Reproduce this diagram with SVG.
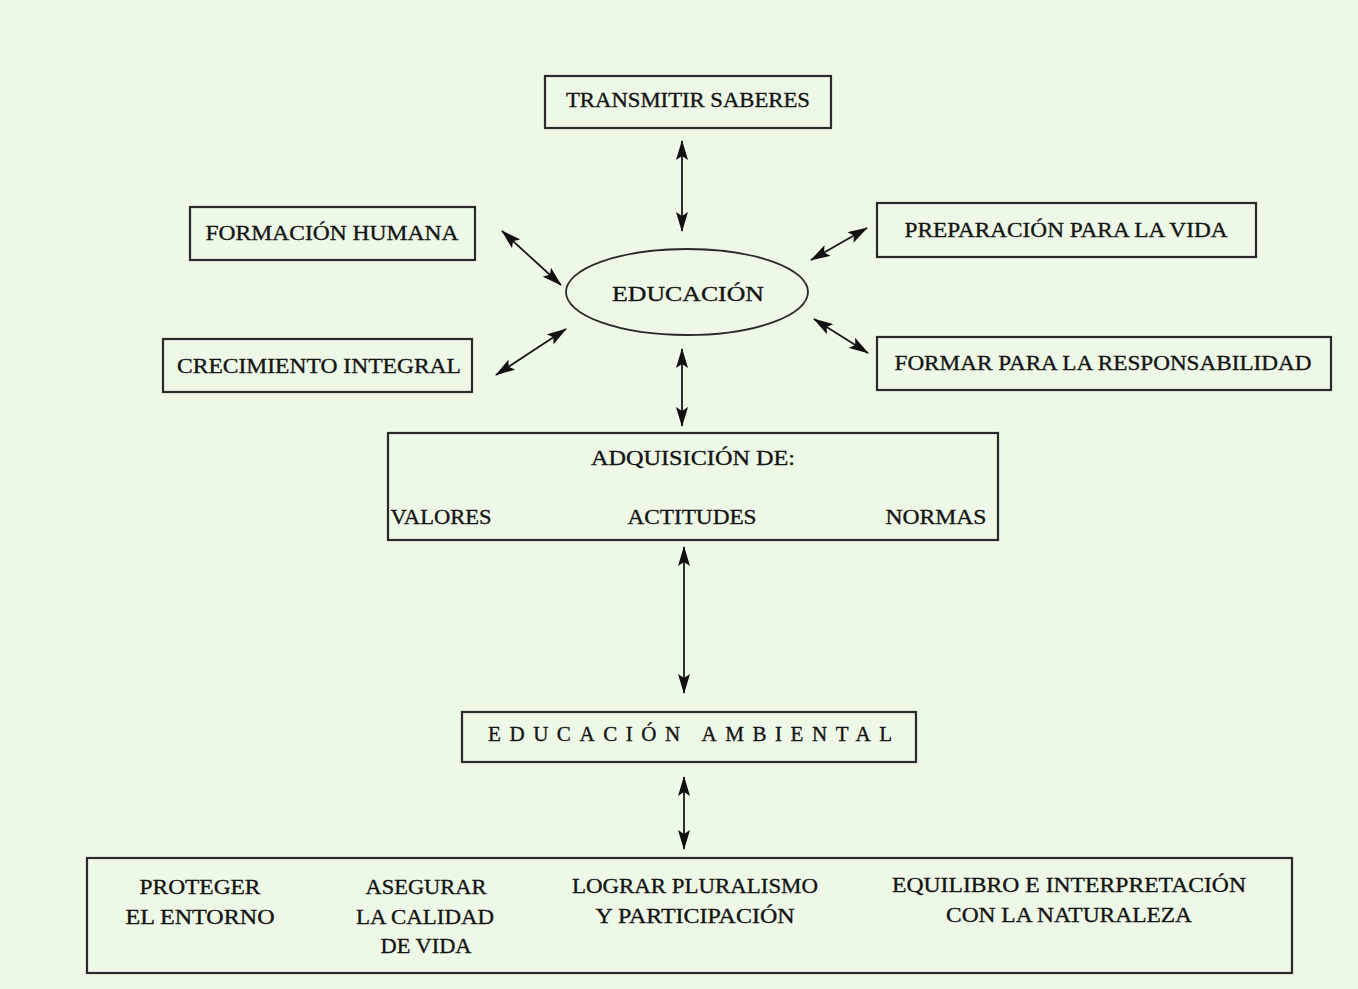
<svg xmlns="http://www.w3.org/2000/svg" width="1358" height="989" viewBox="0 0 1358 989">
<style>
.bx{fill:none;stroke:#2a2a2a;stroke-width:2.2}
.t{font-family:"Liberation Serif","Times New Roman",serif;font-size:22px;fill:#141414;stroke:#141414;stroke-width:0.35;text-anchor:middle}
.c{stroke:#1a1a1a;stroke-width:1.8;fill:none;marker-start:url(#ah);marker-end:url(#ah)}
</style>
<defs>
<marker id="ah" viewBox="0 0 20 12" refX="19" refY="6" markerWidth="20" markerHeight="12" markerUnits="userSpaceOnUse" orient="auto-start-reverse">
<path d="M0,0 L20,6 L0,12 L4,6 Z" fill="#111"/>
</marker>
</defs>
<rect width="1358" height="989" fill="#eef8e6"/>
<g id="connectors">
<line class="c" x1="682" y1="141" x2="682" y2="231"/>
<line class="c" x1="502" y1="231" x2="561" y2="285"/>
<line class="c" x1="496" y1="375" x2="566" y2="329"/>
<line class="c" x1="811" y1="260" x2="867" y2="228"/>
<line class="c" x1="814" y1="319" x2="868" y2="353"/>
<line class="c" x1="682" y1="349" x2="682" y2="426"/>
<line class="c" x1="684" y1="547" x2="684" y2="693"/>
<line class="c" x1="684" y1="777" x2="684" y2="849"/>
</g>
<g id="transmitir">
<rect class="bx" x="545" y="76" width="286" height="52"/>
<text class="t" x="688" y="107" textLength="244" lengthAdjust="spacingAndGlyphs">TRANSMITIR SABERES</text>
</g>
<g id="formacion">
<rect class="bx" x="190" y="207" width="285" height="53"/>
<text class="t" x="332" y="240" textLength="253" lengthAdjust="spacingAndGlyphs">FORMACIÓN HUMANA</text>
</g>
<g id="crecimiento">
<rect class="bx" x="163" y="339" width="309" height="53"/>
<text class="t" x="319" y="373" textLength="284" lengthAdjust="spacingAndGlyphs">CRECIMIENTO INTEGRAL</text>
</g>
<g id="preparacion">
<rect class="bx" x="877" y="203" width="379" height="54"/>
<text class="t" x="1066" y="237" textLength="323" lengthAdjust="spacingAndGlyphs">PREPARACIÓN PARA LA VIDA</text>
</g>
<g id="formar">
<rect class="bx" x="877" y="337" width="454" height="53"/>
<text class="t" x="1103" y="370" textLength="417" lengthAdjust="spacingAndGlyphs">FORMAR PARA LA RESPONSABILIDAD</text>
</g>
<g id="educacion">
<ellipse cx="687" cy="292" rx="121" ry="43" fill="none" stroke="#2a2a2a" stroke-width="1.8"/>
<text class="t" x="688" y="301" textLength="152" lengthAdjust="spacingAndGlyphs">EDUCACIÓN</text>
</g>
<g id="adquisicion">
<rect class="bx" x="388" y="433" width="610" height="107"/>
<text class="t" x="693" y="465" textLength="204" lengthAdjust="spacingAndGlyphs">ADQUISICIÓN DE:</text>
<text class="t" x="441" y="524" textLength="101" lengthAdjust="spacingAndGlyphs">VALORES</text>
<text class="t" x="692" y="524" textLength="129" lengthAdjust="spacingAndGlyphs">ACTITUDES</text>
<text class="t" x="936" y="524" textLength="101" lengthAdjust="spacingAndGlyphs">NORMAS</text>
</g>
<g id="ambiental">
<rect class="bx" x="462" y="712" width="454" height="50"/>
<text class="t" x="690" y="741" textLength="404" lengthAdjust="spacing" style="font-size:21px">EDUCACIÓN AMBIENTAL</text>
</g>
<g id="objetivos">
<rect class="bx" x="87" y="858" width="1205" height="115"/>
<text class="t" x="200" y="894" textLength="121" lengthAdjust="spacingAndGlyphs">PROTEGER</text>
<text class="t" x="200" y="924" textLength="149" lengthAdjust="spacingAndGlyphs">EL ENTORNO</text>
<text class="t" x="426" y="894" textLength="121" lengthAdjust="spacingAndGlyphs">ASEGURAR</text>
<text class="t" x="425" y="924" textLength="138" lengthAdjust="spacingAndGlyphs">LA CALIDAD</text>
<text class="t" x="426" y="953" textLength="91" lengthAdjust="spacingAndGlyphs">DE VIDA</text>
<text class="t" x="695" y="893" textLength="246" lengthAdjust="spacingAndGlyphs">LOGRAR PLURALISMO</text>
<text class="t" x="695" y="923" textLength="199" lengthAdjust="spacingAndGlyphs">Y PARTICIPACIÓN</text>
<text class="t" x="1069" y="892" textLength="354" lengthAdjust="spacingAndGlyphs">EQUILIBRO E INTERPRETACIÓN</text>
<text class="t" x="1069" y="922" textLength="246" lengthAdjust="spacingAndGlyphs">CON LA NATURALEZA</text>
</g>
</svg>
